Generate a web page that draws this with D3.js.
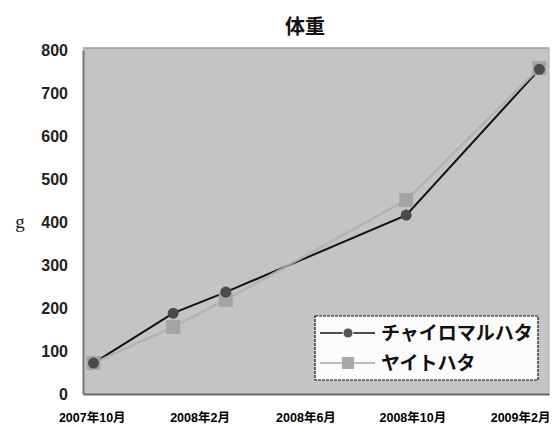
<!DOCTYPE html>
<html>
<head>
<meta charset="utf-8">
<script src="https://cdn.jsdelivr.net/npm/d3@7"></script>
<style>
  html, body { margin: 0; padding: 0; background: #fff; }
  svg { display: block; }
  text { font-family: "Liberation Sans", "Noto Sans CJK JP", sans-serif; }
</style>
</head>
<body>
<svg id="chart" width="556" height="428"></svg>
<script>
// Body weight of two grouper species over time
const title = "体重";
const yLabel = "g";
const seriesNames = ["チャイロマルハタ", "ヤイトハタ"];
const dates = ["2007-10-03", "2008-01-02", "2008-03-02", "2008-09-24", "2009-02-23"];
const chairomaruhata = [72, 188, 237, 416, 755];
const yaitohata = [72, 156, 219, 451, 758];
const yTicks = [0, 100, 200, 300, 400, 500, 600, 700, 800];
const xTickDates = ["2007-10-01", "2008-02-01", "2008-06-01", "2008-10-01", "2009-02-01"];
const xTickLabels = ["2007年10月", "2008年2月", "2008年6月", "2008年10月", "2009年2月"];

const parse = d3.timeParse("%Y-%m-%d");
const svg = d3.select("#chart");

const plot = { left: 83, right: 549, top: 48, bottom: 394 };

const x = d3.scaleTime()
  .domain([parse("2007-09-21"), parse("2009-03-06")])
  .range([plot.left, plot.right]);
const y = d3.scaleLinear()
  .domain([0, 800])
  .range([394, 50]);

// plot area
svg.append("rect")
  .attr("x", plot.left).attr("y", plot.top)
  .attr("width", plot.right - plot.left).attr("height", plot.bottom - plot.top)
  .attr("fill", "#c4c4c4");
svg.append("line")
  .attr("x1", plot.left).attr("x2", plot.right)
  .attr("y1", plot.top).attr("y2", plot.top)
  .attr("stroke", "#9a9a9a").attr("stroke-width", 1.5);
svg.append("line")
  .attr("x1", plot.right).attr("x2", plot.right)
  .attr("y1", plot.top).attr("y2", plot.bottom)
  .attr("stroke", "#a8a8a8").attr("stroke-width", 1);

// title
svg.append("text")
  .attr("x", 305).attr("y", 34)
  .attr("text-anchor", "middle")
  .attr("font-size", 20).attr("font-weight", "bold")
  .style("font-family", "'Noto Sans CJK JP', sans-serif")
  .attr("fill", "#111")
  .text(title);

// y axis
const yAxis = svg.append("g")
  .attr("transform", `translate(${plot.left},0)`)
  .call(d3.axisLeft(y).tickValues(yTicks).tickSize(0).tickPadding(15));
yAxis.select(".domain").attr("stroke", "#777").attr("stroke-width", 2);
yAxis.selectAll("text")
  .attr("font-size", 16).attr("font-weight", "bold").attr("fill", "#222");

svg.append("text")
  .attr("x", 20).attr("y", 228)
  .attr("text-anchor", "middle")
  .attr("font-size", 19)
  .style("font-family", "'Liberation Serif', serif")
  .attr("fill", "#222")
  .text(yLabel);

// x axis
const xAxis = svg.append("g")
  .attr("transform", `translate(0,${plot.bottom})`)
  .call(d3.axisBottom(x)
    .tickValues(xTickDates.map(parse))
    .tickFormat((d, i) => xTickLabels[i])
    .tickSize(0).tickPadding(19));
xAxis.select(".domain").attr("stroke", "#666").attr("stroke-width", 2);
xAxis.selectAll("text")
  .attr("font-size", 12.5).attr("font-weight", "bold")
  .attr("fill", "#000");

const pts1 = dates.map((d, i) => [x(parse(d)), y(chairomaruhata[i])]);
const pts2 = dates.map((d, i) => [x(parse(d)), y(yaitohata[i])]);
const line = d3.line();

// series lines
svg.append("path").attr("d", line(pts1))
  .attr("fill", "none").attr("stroke", "#111").attr("stroke-width", 2);
svg.append("path").attr("d", line(pts2))
  .attr("fill", "none").attr("stroke", "#b0b0b0").attr("stroke-width", 2.5)
  .attr("opacity", 0.85);

// markers
svg.selectAll(".sq").data(pts2).enter().append("rect")
  .attr("x", d => d[0] - 7).attr("y", d => d[1] - 7)
  .attr("width", 14).attr("height", 14)
  .attr("fill", "#a4a4a4");
svg.selectAll(".dot").data(pts1).enter().append("circle")
  .attr("cx", d => d[0]).attr("cy", d => d[1]).attr("r", 5.5)
  .attr("fill", "#4a4a4a");

// legend
const lg = svg.append("g");
lg.append("rect")
  .attr("x", 315).attr("y", 316).attr("width", 223).attr("height", 64)
  .attr("fill", "#fbfbfb").attr("stroke", "#111").attr("stroke-width", 1.2)
  .attr("stroke-dasharray", "3,1");
const rows = [333, 363];
lg.append("line").attr("x1", 320).attr("x2", 375).attr("y1", rows[0]).attr("y2", rows[0])
  .attr("stroke", "#111").attr("stroke-width", 1.5);
lg.append("circle").attr("cx", 348).attr("cy", rows[0]).attr("r", 5)
  .attr("fill", "#555").attr("stroke", "#eee").attr("stroke-width", 1);
lg.append("line").attr("x1", 320).attr("x2", 375).attr("y1", rows[1]).attr("y2", rows[1])
  .attr("stroke", "#bbb").attr("stroke-width", 2);
lg.append("rect").attr("x", 342).attr("y", rows[1] - 6).attr("width", 12).attr("height", 12)
  .attr("fill", "#a8a8a8");
lg.selectAll(".lt").data(seriesNames).enter().append("text")
  .attr("x", 381).attr("y", (d, i) => rows[i] + 7)
  .attr("font-size", 19).attr("font-weight", "bold")
  .attr("fill", "#111")
  .text(d => d);
</script>
</body>
</html>
